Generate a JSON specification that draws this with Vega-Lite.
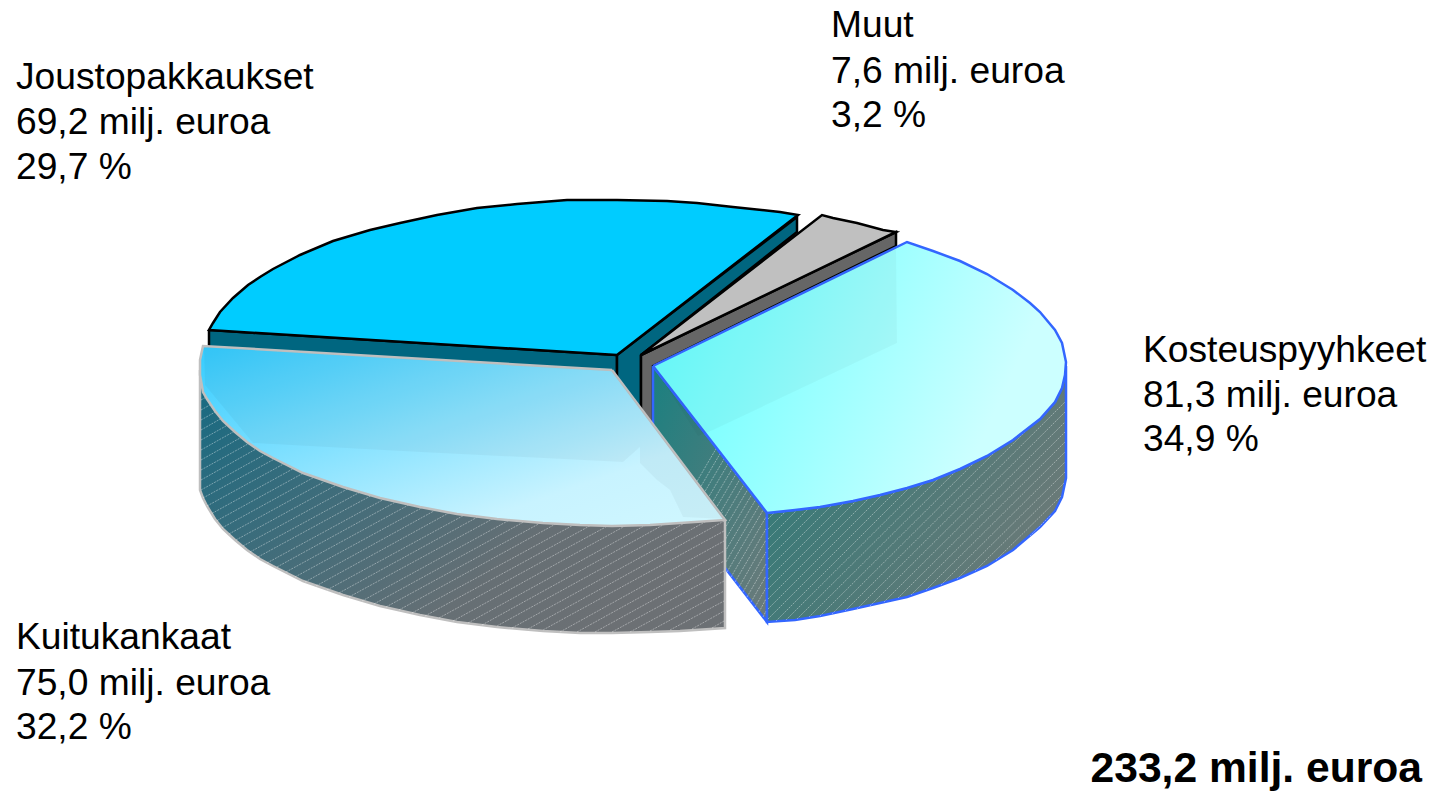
{"$schema":"https://vega.github.io/schema/vega-lite/v6.json","width":1445,"height":792,"padding":0,"autosize":{"type":"fit","contains":"padding"},"background":"white","view":{"stroke":null},
"datasets":{
"shapes":[
{"p":"js1","i":0,"x":209,"y":330},{"p":"js1","i":1,"x":617,"y":355},{"p":"js1","i":2,"x":617,"y":470},{"p":"js1","i":3,"x":209,"y":450},{"p":"js1","i":4,"x":209,"y":330},
{"p":"js2","i":0,"x":617,"y":355},{"p":"js2","i":1,"x":797,"y":217},{"p":"js2","i":2,"x":797,"y":232},{"p":"js2","i":3,"x":641,"y":355},{"p":"js2","i":4,"x":641,"y":470},{"p":"js2","i":5,"x":617,"y":470},{"p":"js2","i":6,"x":617,"y":355},
{"p":"jt","i":0,"x":617,"y":355},{"p":"jt","i":1,"x":209,"y":330},{"p":"jt","i":2,"x":213,"y":323},{"p":"jt","i":3,"x":220,"y":312},{"p":"jt","i":4,"x":233,"y":298},{"p":"jt","i":5,"x":248,"y":285},{"p":"jt","i":6,"x":260,"y":277},{"p":"jt","i":7,"x":273,"y":269},{"p":"jt","i":8,"x":300,"y":255},{"p":"jt","i":9,"x":333,"y":241},{"p":"jt","i":10,"x":370,"y":230},{"p":"jt","i":11,"x":400,"y":223},{"p":"jt","i":12,"x":437,"y":215},{"p":"jt","i":13,"x":477,"y":208},{"p":"jt","i":14,"x":517,"y":204},{"p":"jt","i":15,"x":567,"y":200},{"p":"jt","i":16,"x":617,"y":200},{"p":"jt","i":17,"x":667,"y":201},{"p":"jt","i":18,"x":697,"y":203},{"p":"jt","i":19,"x":733,"y":207},{"p":"jt","i":20,"x":780,"y":212},{"p":"jt","i":21,"x":798,"y":215},{"p":"jt","i":22,"x":617,"y":355},
{"p":"gs","i":0,"x":641,"y":355},{"p":"gs","i":1,"x":896,"y":232},{"p":"gs","i":2,"x":896,"y":246},{"p":"gs","i":3,"x":653,"y":366},{"p":"gs","i":4,"x":653,"y":470},{"p":"gs","i":5,"x":641,"y":470},{"p":"gs","i":6,"x":641,"y":355},
{"p":"gt","i":0,"x":641,"y":355},{"p":"gt","i":1,"x":822,"y":215},{"p":"gt","i":2,"x":833,"y":218},{"p":"gt","i":3,"x":857,"y":223},{"p":"gt","i":4,"x":883,"y":230},{"p":"gt","i":5,"x":896,"y":232},{"p":"gt","i":6,"x":641,"y":355},
{"p":"bs2","i":0,"x":653,"y":366},{"p":"bs2","i":1,"x":767,"y":513},{"p":"bs2","i":2,"x":767,"y":622},{"p":"bs2","i":3,"x":653,"y":475},{"p":"bs2","i":4,"x":653,"y":366},
{"p":"bs","i":0,"x":767,"y":513},{"p":"bs","i":1,"x":820,"y":507},{"p":"bs","i":2,"x":853,"y":501},{"p":"bs","i":3,"x":880,"y":495},{"p":"bs","i":4,"x":907,"y":488},{"p":"bs","i":5,"x":933,"y":480},{"p":"bs","i":6,"x":960,"y":469},{"p":"bs","i":7,"x":987,"y":456},{"p":"bs","i":8,"x":1013,"y":440},{"p":"bs","i":9,"x":1040,"y":419},{"p":"bs","i":10,"x":1055,"y":402},{"p":"bs","i":11,"x":1062,"y":388},{"p":"bs","i":12,"x":1066,"y":366},{"p":"bs","i":13,"x":1066,"y":478},{"p":"bs","i":14,"x":1062,"y":497},{"p":"bs","i":15,"x":1055,"y":511},{"p":"bs","i":16,"x":1040,"y":527},{"p":"bs","i":17,"x":1013,"y":550},{"p":"bs","i":18,"x":987,"y":566},{"p":"bs","i":19,"x":960,"y":578},{"p":"bs","i":20,"x":933,"y":588},{"p":"bs","i":21,"x":907,"y":597},{"p":"bs","i":22,"x":880,"y":603},{"p":"bs","i":23,"x":853,"y":609},{"p":"bs","i":24,"x":820,"y":616},{"p":"bs","i":25,"x":795,"y":620},{"p":"bs","i":26,"x":767,"y":622},{"p":"bs","i":27,"x":767,"y":513},
{"p":"bt","i":0,"x":653,"y":366},{"p":"bt","i":1,"x":907,"y":242},{"p":"bt","i":2,"x":933,"y":251},{"p":"bt","i":3,"x":960,"y":261},{"p":"bt","i":4,"x":987,"y":274},{"p":"bt","i":5,"x":1013,"y":290},{"p":"bt","i":6,"x":1030,"y":303},{"p":"bt","i":7,"x":1040,"y":312},{"p":"bt","i":8,"x":1055,"y":330},{"p":"bt","i":9,"x":1062,"y":343},{"p":"bt","i":10,"x":1066,"y":362},{"p":"bt","i":11,"x":1065,"y":375},{"p":"bt","i":12,"x":1062,"y":388},{"p":"bt","i":13,"x":1055,"y":402},{"p":"bt","i":14,"x":1040,"y":419},{"p":"bt","i":15,"x":1013,"y":440},{"p":"bt","i":16,"x":987,"y":456},{"p":"bt","i":17,"x":960,"y":469},{"p":"bt","i":18,"x":933,"y":480},{"p":"bt","i":19,"x":907,"y":488},{"p":"bt","i":20,"x":880,"y":495},{"p":"bt","i":21,"x":853,"y":501},{"p":"bt","i":22,"x":820,"y":507},{"p":"bt","i":23,"x":795,"y":510},{"p":"bt","i":24,"x":767,"y":513},{"p":"bt","i":25,"x":653,"y":366},
{"p":"bo","i":0,"x":654,"y":367},{"p":"bo","i":1,"x":896,"y":247},{"p":"bo","i":2,"x":897,"y":343},{"p":"bo","i":3,"x":713,"y":430},{"p":"bo","i":4,"x":698,"y":436},{"p":"bo","i":5,"x":654,"y":367},
{"p":"ks","i":0,"x":200,"y":370},{"p":"ks","i":1,"x":200,"y":490},{"p":"ks","i":2,"x":203,"y":498},{"p":"ks","i":3,"x":207,"y":506},{"p":"ks","i":4,"x":215,"y":519},{"p":"ks","i":5,"x":223,"y":529},{"p":"ks","i":6,"x":235,"y":540},{"p":"ks","i":7,"x":247,"y":550},{"p":"ks","i":8,"x":260,"y":559},{"p":"ks","i":9,"x":273,"y":566},{"p":"ks","i":10,"x":303,"y":581},{"p":"ks","i":11,"x":343,"y":595},{"p":"ks","i":12,"x":380,"y":606},{"p":"ks","i":13,"x":420,"y":615},{"p":"ks","i":14,"x":457,"y":622},{"p":"ks","i":15,"x":497,"y":627},{"p":"ks","i":16,"x":543,"y":631},{"p":"ks","i":17,"x":580,"y":633},{"p":"ks","i":18,"x":612,"y":633},{"p":"ks","i":19,"x":650,"y":632},{"p":"ks","i":20,"x":680,"y":631},{"p":"ks","i":21,"x":725,"y":628},{"p":"ks","i":22,"x":725,"y":520},{"p":"ks","i":23,"x":612,"y":500},{"p":"ks","i":24,"x":200,"y":370},
{"p":"kt","i":0,"x":612,"y":370},{"p":"kt","i":1,"x":203,"y":346},{"p":"kt","i":2,"x":200,"y":360},{"p":"kt","i":3,"x":200,"y":375},{"p":"kt","i":4,"x":203,"y":392},{"p":"kt","i":5,"x":207,"y":399},{"p":"kt","i":6,"x":215,"y":411},{"p":"kt","i":7,"x":223,"y":421},{"p":"kt","i":8,"x":235,"y":432},{"p":"kt","i":9,"x":247,"y":442},{"p":"kt","i":10,"x":260,"y":451},{"p":"kt","i":11,"x":273,"y":458},{"p":"kt","i":12,"x":303,"y":473},{"p":"kt","i":13,"x":343,"y":487},{"p":"kt","i":14,"x":380,"y":498},{"p":"kt","i":15,"x":420,"y":507},{"p":"kt","i":16,"x":457,"y":514},{"p":"kt","i":17,"x":497,"y":519},{"p":"kt","i":18,"x":543,"y":523},{"p":"kt","i":19,"x":580,"y":525},{"p":"kt","i":20,"x":612,"y":526},{"p":"kt","i":21,"x":650,"y":525},{"p":"kt","i":22,"x":680,"y":523},{"p":"kt","i":23,"x":725,"y":520},{"p":"kt","i":24,"x":612,"y":370},
{"p":"ko","i":0,"x":204,"y":347},{"p":"ko","i":1,"x":612,"y":371},{"p":"ko","i":2,"x":724,"y":519},{"p":"ko","i":3,"x":683,"y":517},{"p":"ko","i":4,"x":670,"y":490},{"p":"ko","i":5,"x":657,"y":480},{"p":"ko","i":6,"x":640,"y":463},{"p":"ko","i":7,"x":640,"y":447},{"p":"ko","i":8,"x":623,"y":462},{"p":"ko","i":9,"x":420,"y":452},{"p":"ko","i":10,"x":253,"y":443},{"p":"ko","i":11,"x":205,"y":385},{"p":"ko","i":12,"x":204,"y":347}
],
"hatch":[
{"s":"k","h":400,"x":201,"y":400},{"s":"k","h":400,"x":221,"y":388.5},{"s":"k","h":410,"x":201,"y":410},{"s":"k","h":410,"x":226,"y":395.7},{"s":"k","h":420,"x":201,"y":420},{"s":"k","h":420,"x":231,"y":403},{"s":"k","h":430,"x":201,"y":430},{"s":"k","h":430,"x":236,"y":410},{"s":"k","h":440,"x":201,"y":440},{"s":"k","h":440,"x":242,"y":417},{"s":"k","h":450,"x":201,"y":450},{"s":"k","h":450,"x":249,"y":423},{"s":"k","h":460,"x":201,"y":460},{"s":"k","h":460,"x":256,"y":429},{"s":"k","h":470,"x":201,"y":470},{"s":"k","h":470,"x":264,"y":435},{"s":"k","h":480,"x":201,"y":480},{"s":"k","h":480,"x":272,"y":440},{"s":"k","h":490,"x":201,"y":490},{"s":"k","h":490,"x":280,"y":446},
{"s":"k","h":500,"x":203,"y":498},{"s":"k","h":500,"x":290,"y":450.5},{"s":"k","h":510,"x":207,"y":506},{"s":"k","h":510,"x":299,"y":455.5},{"s":"k","h":520,"x":212,"y":513.4},{"s":"k","h":520,"x":309,"y":460},{"s":"k","h":530,"x":217,"y":520.6},{"s":"k","h":530,"x":318,"y":465},{"s":"k","h":540,"x":222,"y":527.9},{"s":"k","h":540,"x":329,"y":469},{"s":"k","h":550,"x":229,"y":534},{"s":"k","h":550,"x":340,"y":473},{"s":"k","h":560,"x":236,"y":540},{"s":"k","h":560,"x":351,"y":477},{"s":"k","h":570,"x":243,"y":546},{"s":"k","h":570,"x":362,"y":481},{"s":"k","h":580,"x":250,"y":552},{"s":"k","h":580,"x":375,"y":484},{"s":"k","h":590,"x":258,"y":557},{"s":"k","h":590,"x":387,"y":487},
{"s":"k","h":600,"x":267,"y":563},{"s":"k","h":600,"x":399,"y":491},{"s":"k","h":610,"x":277,"y":567},{"s":"k","h":610,"x":412,"y":493},{"s":"k","h":620,"x":286,"y":572},{"s":"k","h":620,"x":425,"y":496},{"s":"k","h":630,"x":295,"y":577},{"s":"k","h":630,"x":438,"y":499},{"s":"k","h":640,"x":305,"y":582},{"s":"k","h":640,"x":452,"y":501},{"s":"k","h":650,"x":316,"y":586},{"s":"k","h":650,"x":465,"y":504},{"s":"k","h":660,"x":327,"y":590},{"s":"k","h":660,"x":479,"y":507},{"s":"k","h":670,"x":339,"y":593},{"s":"k","h":670,"x":494,"y":508},{"s":"k","h":680,"x":349,"y":597},{"s":"k","h":680,"x":509,"y":510},{"s":"k","h":690,"x":362,"y":601},{"s":"k","h":690,"x":524,"y":512},
{"s":"k","h":700,"x":374,"y":604},{"s":"k","h":700,"x":540,"y":513},{"s":"k","h":710,"x":386,"y":607},{"s":"k","h":710,"x":555,"y":515},{"s":"k","h":720,"x":399,"y":610},{"s":"k","h":720,"x":572,"y":515},{"s":"k","h":730,"x":412,"y":613},{"s":"k","h":730,"x":588,"y":517},{"s":"k","h":740,"x":425,"y":616},{"s":"k","h":740,"x":606,"y":517},{"s":"k","h":750,"x":439,"y":618},{"s":"k","h":750,"x":624,"y":517},{"s":"k","h":760,"x":453,"y":621},{"s":"k","h":760,"x":643,"y":516},{"s":"k","h":770,"x":468,"y":623},{"s":"k","h":770,"x":662,"y":516},{"s":"k","h":780,"x":482,"y":625},{"s":"k","h":780,"x":681,"y":515},{"s":"k","h":790,"x":497,"y":626},{"s":"k","h":790,"x":701,"y":514},
{"s":"k","h":800,"x":512,"y":628},{"s":"k","h":800,"x":723,"y":512},{"s":"k","h":810,"x":528,"y":629},{"s":"k","h":810,"x":724,"y":521},{"s":"k","h":820,"x":543,"y":630},{"s":"k","h":820,"x":724,"y":531},{"s":"k","h":830,"x":560,"y":632},{"s":"k","h":830,"x":724,"y":541},{"s":"k","h":840,"x":577,"y":632},{"s":"k","h":840,"x":724,"y":551},{"s":"k","h":850,"x":595,"y":632},{"s":"k","h":850,"x":724,"y":561},{"s":"k","h":860,"x":612,"y":632},{"s":"k","h":860,"x":724,"y":571},{"s":"k","h":870,"x":630,"y":632},{"s":"k","h":870,"x":724,"y":581},{"s":"k","h":880,"x":650,"y":631},{"s":"k","h":880,"x":724,"y":591},{"s":"k","h":890,"x":670,"y":630},{"s":"k","h":890,"x":724,"y":601},{"s":"k","h":900,"x":692,"y":629},{"s":"k","h":900,"x":724,"y":611},{"s":"k","h":910,"x":712,"y":628},{"s":"k","h":910,"x":724,"y":621},
{"s":"b","h":520,"x":768,"y":519},{"s":"b","h":520,"x":784,"y":503},{"s":"b","h":530,"x":768,"y":529},{"s":"b","h":530,"x":795,"y":502},{"s":"b","h":540,"x":768,"y":539},{"s":"b","h":540,"x":806,"y":501},{"s":"b","h":550,"x":768,"y":549},{"s":"b","h":550,"x":818,"y":499},{"s":"b","h":560,"x":768,"y":559},{"s":"b","h":560,"x":829,"y":498},{"s":"b","h":570,"x":768,"y":569},{"s":"b","h":570,"x":841,"y":496},{"s":"b","h":580,"x":768,"y":579},{"s":"b","h":580,"x":853,"y":494},{"s":"b","h":590,"x":768,"y":589},{"s":"b","h":590,"x":865,"y":492},{"s":"b","h":600,"x":768,"y":599},{"s":"b","h":600,"x":877,"y":490},{"s":"b","h":610,"x":768,"y":609},{"s":"b","h":610,"x":892,"y":485},{"s":"b","h":620,"x":768,"y":619},{"s":"b","h":620,"x":906,"y":481},
{"s":"b","h":630,"x":776,"y":621},{"s":"b","h":630,"x":920,"y":477},{"s":"b","h":640,"x":786,"y":620},{"s":"b","h":640,"x":934,"y":473},{"s":"b","h":650,"x":797,"y":619},{"s":"b","h":650,"x":949,"y":468},{"s":"b","h":660,"x":809,"y":617},{"s":"b","h":660,"x":965,"y":462},{"s":"b","h":670,"x":820,"y":616},{"s":"b","h":670,"x":983,"y":454},{"s":"b","h":680,"x":832,"y":614},{"s":"b","h":680,"x":1004,"y":443},{"s":"b","h":690,"x":845,"y":611},{"s":"b","h":690,"x":1034,"y":423},{"s":"b","h":700,"x":857,"y":609},{"s":"b","h":700,"x":1065,"y":402},{"s":"b","h":710,"x":870,"y":606},{"s":"b","h":710,"x":1065,"y":412},{"s":"b","h":720,"x":884,"y":602},{"s":"b","h":720,"x":1065,"y":422},{"s":"b","h":730,"x":898,"y":598},{"s":"b","h":730,"x":1065,"y":432},{"s":"b","h":740,"x":911,"y":595},{"s":"b","h":740,"x":1065,"y":442},{"s":"b","h":750,"x":926,"y":590},{"s":"b","h":750,"x":1065,"y":452},{"s":"b","h":760,"x":941,"y":585},{"s":"b","h":760,"x":1065,"y":462},{"s":"b","h":770,"x":957,"y":579},{"s":"b","h":770,"x":1065,"y":472},{"s":"b","h":780,"x":975,"y":571},{"s":"b","h":780,"x":1064,"y":483},{"s":"b","h":790,"x":996,"y":560},{"s":"b","h":790,"x":1061,"y":496},{"s":"b","h":800,"x":1030,"y":536},{"s":"b","h":800,"x":1051,"y":515},
{"s":"c","h":4,"x":763,"y":617},{"s":"c","h":4,"x":766,"y":611},{"s":"c","h":8,"x":759,"y":612},{"s":"c","h":8,"x":766,"y":599},{"s":"c","h":12,"x":755,"y":607},{"s":"c","h":12,"x":766,"y":588},{"s":"c","h":16,"x":751,"y":602},{"s":"c","h":16,"x":766,"y":576},{"s":"c","h":20,"x":747,"y":597},{"s":"c","h":20,"x":766,"y":564},{"s":"c","h":24,"x":743,"y":592},{"s":"c","h":24,"x":766,"y":552},{"s":"c","h":28,"x":739,"y":587},{"s":"c","h":28,"x":766,"y":540},{"s":"c","h":32,"x":735,"y":582},{"s":"c","h":32,"x":766,"y":529},{"s":"c","h":36,"x":731,"y":577},{"s":"c","h":36,"x":766,"y":517},{"s":"c","h":40,"x":727,"y":572},{"s":"c","h":40,"x":766,"y":505},{"s":"c","h":44,"x":723,"y":567},{"s":"c","h":44,"x":763,"y":499},{"s":"c","h":48,"x":719,"y":562},{"s":"c","h":48,"x":759,"y":494},{"s":"c","h":52,"x":715,"y":557},{"s":"c","h":52,"x":755,"y":489},{"s":"c","h":56,"x":711,"y":552},{"s":"c","h":56,"x":751,"y":484},{"s":"c","h":60,"x":707,"y":547},{"s":"c","h":60,"x":747,"y":479},{"s":"c","h":64,"x":703,"y":542},{"s":"c","h":64,"x":743,"y":474},{"s":"c","h":68,"x":699,"y":537},{"s":"c","h":68,"x":739,"y":469},{"s":"c","h":72,"x":695,"y":532},{"s":"c","h":72,"x":735,"y":464},{"s":"c","h":76,"x":691,"y":527},{"s":"c","h":76,"x":731,"y":459},{"s":"c","h":80,"x":687,"y":522},{"s":"c","h":80,"x":727,"y":454},{"s":"c","h":84,"x":683,"y":517},{"s":"c","h":84,"x":724,"y":447},{"s":"c","h":88,"x":679,"y":512},{"s":"c","h":88,"x":720,"y":442}
],
"labels":[
{"label":"Joustopakkaukset","x":16,"y":89},{"label":"69,2 milj. euroa","x":16,"y":134},{"label":"29,7 %","x":16,"y":179},
{"label":"Muut","x":831,"y":37},{"label":"7,6 milj. euroa","x":831,"y":83},{"label":"3,2 %","x":831,"y":127},
{"label":"Kosteuspyyhkeet","x":1143,"y":362},{"label":"81,3 milj. euroa","x":1143,"y":407},{"label":"34,9 %","x":1143,"y":451},
{"label":"Kuitukankaat","x":16,"y":649},{"label":"75,0 milj. euroa","x":16,"y":695},{"label":"32,2 %","x":16,"y":739}
],
"total":[{"label":"233,2 milj. euroa","x":1422,"y":782}]
},
"encoding":{
"x":{"field":"x","type":"quantitative","scale":{"domain":[0,1445],"nice":false,"zero":false},"axis":null},
"y":{"field":"y","type":"quantitative","scale":{"domain":[0,792],"reverse":true,"nice":false,"zero":false},"axis":null}
},
"layer":[
{"data":{"name":"shapes"},"transform":[{"filter":"datum.p==='js1'"}],"mark":{"type":"line","fill":"#006680","stroke":"#000000","strokeWidth":2.5,"strokeJoin":"miter"},"encoding":{"order":{"field":"i","type":"quantitative"}}},
{"data":{"name":"shapes"},"transform":[{"filter":"datum.p==='js2'"}],"mark":{"type":"line","fill":"#006680","stroke":"#000000","strokeWidth":2.5},"encoding":{"order":{"field":"i","type":"quantitative"}}},
{"data":{"name":"shapes"},"transform":[{"filter":"datum.p==='jt'"}],"mark":{"type":"line","fill":"#00ccff","stroke":"#000000","strokeWidth":2.5},"encoding":{"order":{"field":"i","type":"quantitative"}}},
{"data":{"name":"shapes"},"transform":[{"filter":"datum.p==='gs'"}],"mark":{"type":"line","fill":"#666666","stroke":"#000000","strokeWidth":2.5},"encoding":{"order":{"field":"i","type":"quantitative"}}},
{"data":{"name":"shapes"},"transform":[{"filter":"datum.p==='gt'"}],"mark":{"type":"line","fill":"#c0c0c0","stroke":"#000000","strokeWidth":2.5},"encoding":{"order":{"field":"i","type":"quantitative"}}},
{"data":{"name":"shapes"},"transform":[{"filter":"datum.p==='bs2'"}],"mark":{"type":"line","fill":{"gradient":"linear","x1":0,"y1":0,"x2":1,"y2":1,"stops":[{"offset":0,"color":"#1a8080"},{"offset":1,"color":"#6e7a7a"}]},"stroke":"#3366ff","strokeWidth":2.5},"encoding":{"order":{"field":"i","type":"quantitative"}}},
{"data":{"name":"shapes"},"transform":[{"filter":"datum.p==='bs'"}],"mark":{"type":"line","fill":{"gradient":"linear","x1":0,"y1":0,"x2":1,"y2":0.5,"stops":[{"offset":0,"color":"#2a7a78"},{"offset":1,"color":"#6a7a78"}]},"stroke":"#3366ff","strokeWidth":2.5},"encoding":{"order":{"field":"i","type":"quantitative"}}},
{"data":{"name":"hatch"},"transform":[{"filter":"datum.s==='b'||datum.s==='c'"}],"mark":{"type":"line","stroke":"#ffffff","strokeWidth":1,"strokeOpacity":0.38,"strokeDash":[2,1]},"encoding":{"detail":{"field":"h","type":"nominal"}}},
{"data":{"name":"shapes"},"transform":[{"filter":"datum.p==='bt'"}],"mark":{"type":"line","fill":{"gradient":"linear","x1":0,"y1":0.3,"x2":1,"y2":0.6,"stops":[{"offset":0,"color":"#66ffff"},{"offset":0.85,"color":"#ccffff"},{"offset":1,"color":"#ccffff"}]},"stroke":"#3366ff","strokeWidth":2.5},"encoding":{"order":{"field":"i","type":"quantitative"}}},
{"data":{"name":"shapes"},"transform":[{"filter":"datum.p==='bo'"}],"mark":{"type":"line","fill":"#000000","fillOpacity":0.03,"strokeOpacity":0},"encoding":{"order":{"field":"i","type":"quantitative"}}},
{"data":{"name":"shapes"},"transform":[{"filter":"datum.p==='ks'"}],"mark":{"type":"line","fill":{"gradient":"linear","x1":0,"y1":0,"x2":1,"y2":0.6,"stops":[{"offset":0,"color":"#156a82"},{"offset":0.75,"color":"#666f74"},{"offset":1,"color":"#6c7074"}]},"stroke":"#bfbfbf","strokeWidth":2.5},"encoding":{"order":{"field":"i","type":"quantitative"}}},
{"data":{"name":"hatch"},"transform":[{"filter":"datum.s==='k'"}],"mark":{"type":"line","stroke":"#ffffff","strokeWidth":1,"strokeOpacity":0.38,"strokeDash":[2,1]},"encoding":{"detail":{"field":"h","type":"nominal"}}},
{"data":{"name":"shapes"},"transform":[{"filter":"datum.p==='kt'"}],"mark":{"type":"line","fill":{"gradient":"linear","x1":0,"y1":0,"x2":1,"y2":1,"stops":[{"offset":0,"color":"#33ccff"},{"offset":0.75,"color":"#c8f3ff"},{"offset":1,"color":"#d0f7ff"}]},"stroke":"#bfbfbf","strokeWidth":2.5},"encoding":{"order":{"field":"i","type":"quantitative"}}},
{"data":{"name":"shapes"},"transform":[{"filter":"datum.p==='ko'"}],"mark":{"type":"line","fill":"#000000","fillOpacity":0.035,"strokeOpacity":0},"encoding":{"order":{"field":"i","type":"quantitative"}}},
{"data":{"name":"labels"},"mark":{"type":"text","font":"Liberation Sans","fontSize":37.2,"align":"left","baseline":"alphabetic","color":"#000000"},"encoding":{"text":{"field":"label","type":"nominal"}}},
{"data":{"name":"total"},"mark":{"type":"text","font":"Liberation Sans","fontSize":42.6,"fontWeight":"bold","align":"right","baseline":"alphabetic","color":"#000000"},"encoding":{"text":{"field":"label","type":"nominal"}}}
]
}
